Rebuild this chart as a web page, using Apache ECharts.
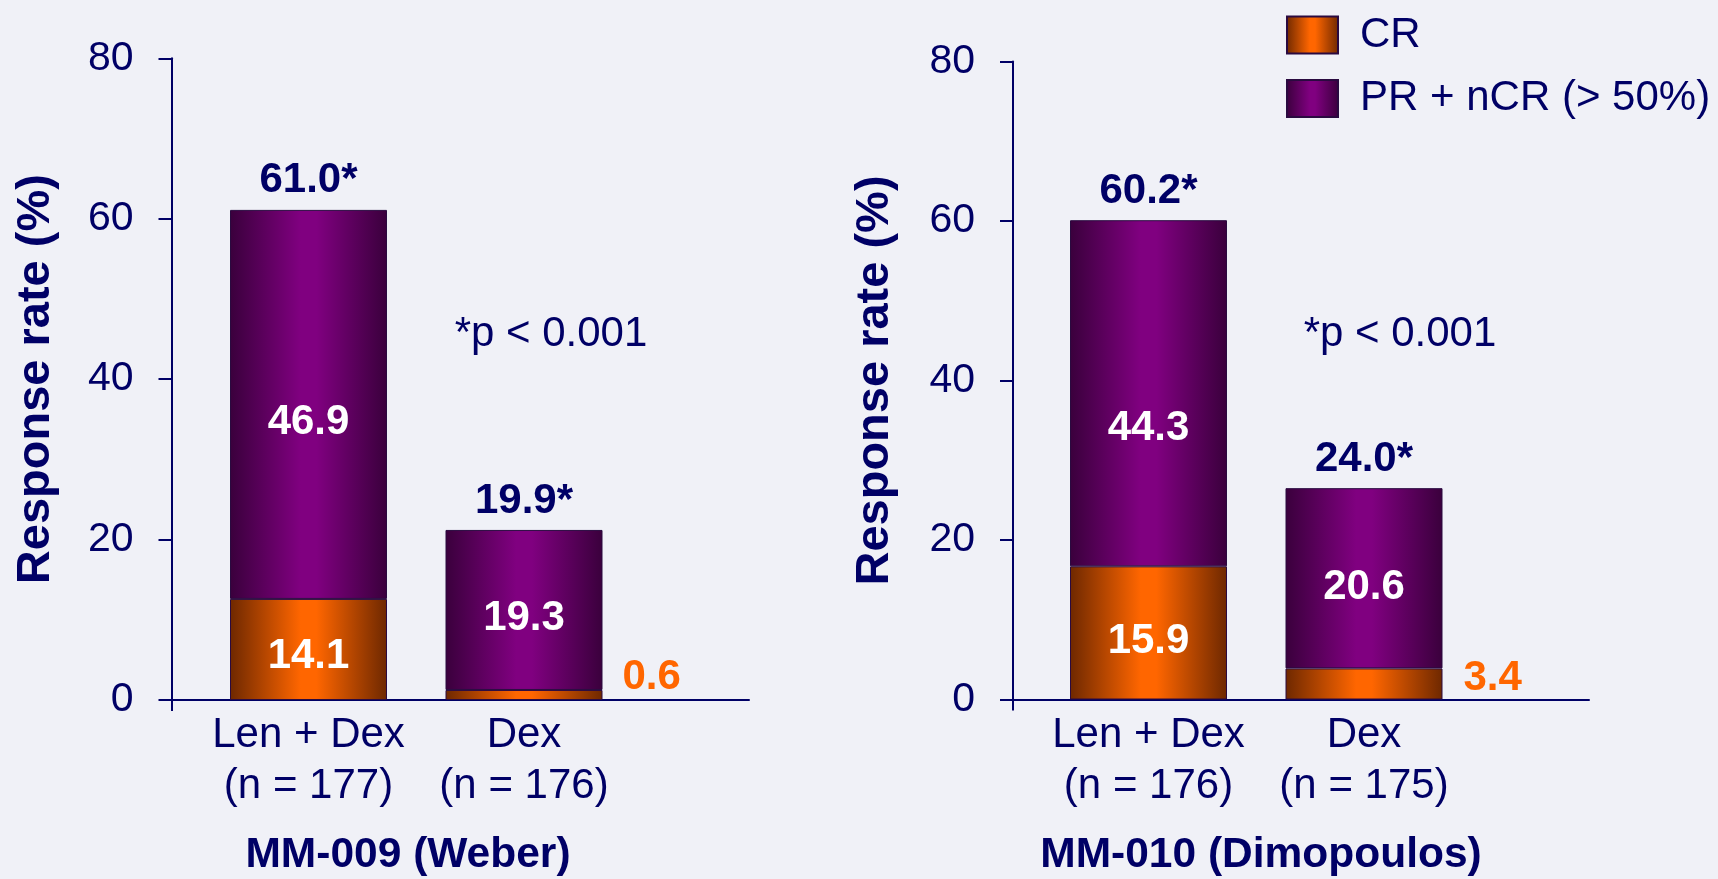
<!DOCTYPE html>
<html>
<head>
<meta charset="utf-8">
<script src="https://cdn.jsdelivr.net/npm/echarts@6/dist/echarts.min.js"></script>
<style>
  html, body { margin: 0; padding: 0; background: #f0f1f7; }
  #chart { width: 1718px; height: 879px; }
</style>
</head>
<body>
<div id="chart"></div>
<script>
// --- data ---
const studies = ["MM-009 (Weber)", "MM-010 (Dimopoulos)"];
const armsWeber = ["Len + Dex\n(n = 177)", "Dex\n(n = 176)"];
const armsDimo = ["Len + Dex\n(n = 176)", "Dex\n(n = 175)"];

// reported rates (%), shown as labels
const crWeber = [14.1, 0.6];
const prWeber = [46.9, 19.3];
const totalWeber = ["61.0*", "19.9*"];
const crDimo = [15.9, 3.4];
const prDimo = [44.3, 20.6];
const totalDimo = ["60.2*", "24.0*"];

// bar segment heights as drawn in the picture (%)
const crBarWeber = [12.6, 1.25];
const prBarWeber = [48.5, 19.95];
const crBarDimo = [16.7, 3.9];
const prBarDimo = [43.4, 22.6];

const pNote = "*p < 0.001";
const seriesNames = ["CR", "PR + nCR (> 50%)"];

// --- style ---
const NAVY = "#000066";
const FONT = "Liberation Sans, Arial, sans-serif";
const grad = (edge, mid) => ({
  type: "linear", x: 0, y: 0, x2: 1, y2: 0,
  colorStops: [
    { offset: 0, color: edge },
    { offset: 0.45, color: mid },
    { offset: 0.55, color: mid },
    { offset: 1, color: edge },
  ],
});
const crColor = grad("#6e2800", "#ff6600");
const prColor = grad("#3a003c", "#800080");

const panels = [
  {
    arms: armsWeber, cr: crWeber, pr: prWeber, total: totalWeber,
    crBar: crBarWeber, prBar: prBarWeber,
    frame: { left: 171.5, right: 969, top: 58.3, bottom: 179 },
    bars: { left: 200.75, right: 1086.25, top: 58.3, bottom: 179 },
    nameGap: 112, crOffset: 7, prOffset: [18, 8.5], outside: { distance: 20, offset: [0, -18] },
    titleX: 408, noteX: 551,
  },
  {
    arms: armsDimo, cr: crDimo, pr: prDimo, total: totalDimo,
    crBar: crBarDimo, prBar: prBarDimo,
    frame: { left: 1013, right: 129, top: 61.5, bottom: 179.5 },
    bars: { left: 1040.75, right: 246.25, top: 61.5, bottom: 179.5 },
    nameGap: 114, crOffset: 9, prOffset: [35, 9], outside: { distance: 21, offset: [0, -6] },
    titleX: 1261, noteX: 1400,
  },
];

const grids = [], xAxes = [], yAxes = [], series = [], graphics = [];

panels.forEach((p, i) => {
  const fi = i * 2, bi = i * 2 + 1;
  grids.push(p.frame, p.bars);

  // frame axes (lines, ticks, labels)
  xAxes.push({
    gridIndex: fi, type: "value", min: 0, max: 1,
    axisLine: { show: true, lineStyle: { color: NAVY, width: 2 } },
    axisTick: { show: true, customValues: [0], length: 11, lineStyle: { color: NAVY, width: 2 } },
    axisLabel: { show: false }, splitLine: { show: false },
  });
  yAxes.push({
    gridIndex: fi, type: "value", min: 0, max: 80, interval: 20,
    axisLine: { show: true, lineStyle: { color: NAVY, width: 2 } },
    axisTick: { show: true, length: 13, lineStyle: { color: NAVY, width: 2 } },
    axisLabel: { color: NAVY, fontSize: 41, fontFamily: FONT, margin: 38 },
    splitLine: { show: false },
    name: "Response rate (%)", nameLocation: "middle", nameRotate: 90, nameGap: p.nameGap,
    nameTextStyle: { color: NAVY, fontSize: 47, fontWeight: "bold", fontFamily: FONT },
  });

  // bar axes
  xAxes.push({
    gridIndex: bi, type: "category", data: p.arms,
    axisLine: { show: false }, axisTick: { show: false },
    axisLabel: { interval: 0, color: NAVY, fontSize: 42, lineHeight: 51, fontFamily: FONT, margin: 10 },
  });
  yAxes.push({ gridIndex: bi, type: "value", min: 0, max: 80, show: false });

  const stack = "s" + i;
  series.push({
    name: seriesNames[0], type: "bar", stack, xAxisIndex: bi, yAxisIndex: bi,
    barWidth: 157,
    itemStyle: { color: crColor, borderColor: "#2a0a40", borderWidth: 1 },
    data: p.crBar.map((v, k) => ({
      value: v,
      label: k === 0
        ? { show: true, position: "inside", offset: [0, p.crOffset], formatter: p.cr[k].toFixed(1),
            color: "#fff", fontSize: 42, fontWeight: "bold", fontFamily: FONT }
        : { show: true, position: "right", distance: p.outside.distance, offset: p.outside.offset,
            formatter: p.cr[k].toFixed(1),
            color: "#ff6600", fontSize: 42, fontWeight: "bold", fontFamily: FONT },
    })),
  });
  series.push({
    name: seriesNames[1], type: "bar", stack, xAxisIndex: bi, yAxisIndex: bi,
    barWidth: 157,
    itemStyle: { color: prColor, borderColor: "#2a0a40", borderWidth: 1 },
    data: p.prBar.map((v, k) => ({
      value: v,
      label: { show: true, position: "inside", offset: [0, p.prOffset[k]],
        formatter: p.pr[k].toFixed(1),
        color: "#fff", fontSize: 42, fontWeight: "bold", fontFamily: FONT },
    })),
  });
  // totals above the bars
  series.push({
    type: "scatter", xAxisIndex: bi, yAxisIndex: bi, symbolSize: 0, silent: true,
    itemStyle: { opacity: 1 },
    data: p.crBar.map((v, k) => v + p.prBar[k]),
    label: {
      show: true, position: "top", distance: 8, opacity: 1,
      formatter: (d) => p.total[d.dataIndex],
      color: NAVY, fontSize: 42, lineHeight: 42, fontWeight: "bold", fontFamily: FONT,
    },
  });

  graphics.push({
    type: "text", x: p.noteX, y: 334.5,
    style: { text: pNote, fill: NAVY, font: "42px " + FONT, align: "center", verticalAlign: "middle" },
  });
  graphics.push({
    type: "text", x: p.titleX, y: 855,
    style: { text: studies[i], fill: NAVY, font: "bold 42.5px " + FONT, align: "center", verticalAlign: "middle" },
  });
});

const chart = echarts.init(document.getElementById("chart"));
chart.setOption({
  backgroundColor: "#f0f1f7",
  animation: false,
  grid: grids,
  xAxis: xAxes,
  yAxis: yAxes,
  legend: {
    data: seriesNames, orient: "vertical", left: 1286, top: 14, padding: 0,
    itemWidth: 51, itemHeight: 37, itemGap: 21.5, icon: "rect",
    textStyle: { color: NAVY, fontSize: 42, fontFamily: FONT, padding: [0, 0, 0, 17] },
  },
  series,
  graphic: graphics,
});
</script>
</body>
</html>
